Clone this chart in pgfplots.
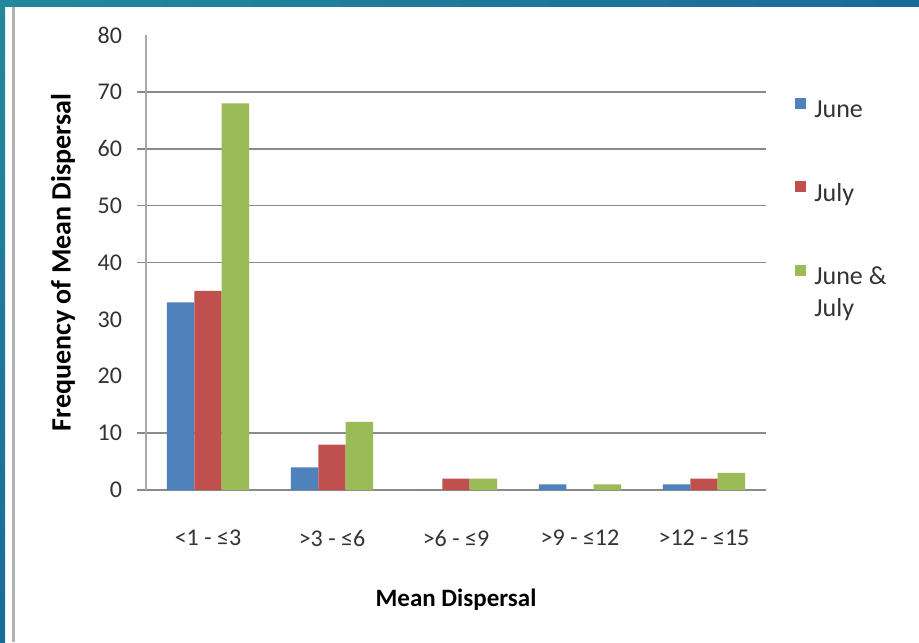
\documentclass[border=0pt]{standalone}
\usepackage{fontspec}
\setmainfont{Carlito}
\usepackage{pgfplots}
\pgfplotsset{compat=1.18}

\definecolor{june}{HTML}{4F81BD}
\definecolor{july}{HTML}{C0504D}
\definecolor{both}{HTML}{9BBB59}
\definecolor{gridgray}{HTML}{8A8A8A}
\definecolor{axisgray}{HTML}{A8A8A8}
\definecolor{frameA}{HTML}{21899B}
\definecolor{frameB}{HTML}{1B6A98}
\definecolor{labelgray}{HTML}{333333}

% frequency of mean dispersal per distance class
\pgfplotstableread{
x june july both
0 33 35 68
1 4  8  12
2 0  2  2
3 1  0  1
4 1  2  3
}\dispersal

\begin{document}
\begin{tikzpicture}
\fill[white] (0pt,0pt) rectangle (459.5pt,321pt);
\useasboundingbox (0pt,0pt) rectangle (459.5pt,321pt);
% slide frame
\shade[left color=frameA,right color=frameB] (0pt,317.5pt) rectangle (459.5pt,321pt);
\shade[top color=frameA,bottom color=frameB] (0pt,0pt) rectangle (2.5pt,317.5pt);
\fill[black!30] (6pt,0pt) rectangle (7.5pt,317.5pt);

\begin{axis}[
  at={(73pt,76pt)}, anchor=south west, scale only axis,
  width=310pt, height=227.5pt,
  ybar=0pt, bar width=13.7pt,
  xmin=-0.5, xmax=4.5, ymin=0, ymax=80,
  axis x line*=bottom, axis y line*=left,
  axis line style={-},
  x axis line style={gridgray, line width=0.75pt},
  y axis line style={axisgray, line width=0.75pt},
  tick align=outside,
  major tick length=4.5pt,
  /pgf/number format/assume math mode=true,
  ytick={0,10,40,50,60,70},
  ymajorgrids,
  grid style={gridgray, line width=0.75pt},
  ytick style={gridgray, line width=0.75pt},
  extra y ticks={20,30,80},
  extra y tick style={grid=none, tick style={draw=none}},
  yticklabel style={font=\fontsize{12}{14}\selectfont, text=labelgray, xshift=-4pt},
  xtick={0,1,2,3,4},
  xticklabels={{<1 - ≤3},{>3 - ≤6},{>6 - ≤9},{>9 - ≤12},{>12 - ≤15}},
  xtick style={draw=none},
  extra x ticks={-0.5,0.5,1.5,2.5,3.5,4.5},
  extra x tick labels={},
  extra x tick style={tick style={axisgray, line width=0.75pt}, major tick length=5pt},
  xticklabel style={font=\fontsize{12}{14}\selectfont, text=labelgray, yshift=-12pt},
  xlabel={\textbf{Mean Dispersal}},
  xlabel style={font=\fontsize{12.5}{15}\selectfont, at={(axis description cs:0.5,-0.2418)}, anchor=center},
  ylabel={\textbf{Frequency of Mean Dispersal}},
  ylabel style={font=\fontsize{14}{16}\selectfont, at={(axis description cs:-0.1339,0.5)}, anchor=center},
  legend style={at={(1.037,0.881)}, anchor=north west, draw=none, fill=none,
    row sep=27pt, column sep=3pt, font=\fontsize{13}{16}\selectfont, text=labelgray,
    nodes={inner sep=1pt}},
  legend cell align=left,
  legend image code/.code={\fill[#1] (0pt,-0.25pt) rectangle (5.5pt,5.25pt);},
]
\addplot[fill=june, draw=none] table[x=x, y=june] {\dispersal};
\addplot[fill=july, draw=none] table[x=x, y=july] {\dispersal};
\addplot[fill=both, draw=none] table[x=x, y=both] {\dispersal};
\addlegendentry{\strut June}
\addlegendentry{\strut July}
\addlegendentry{\begin{tabular}[t]{@{}l@{}}June \&\\July\end{tabular}}
\end{axis}
\end{tikzpicture}
\end{document}
